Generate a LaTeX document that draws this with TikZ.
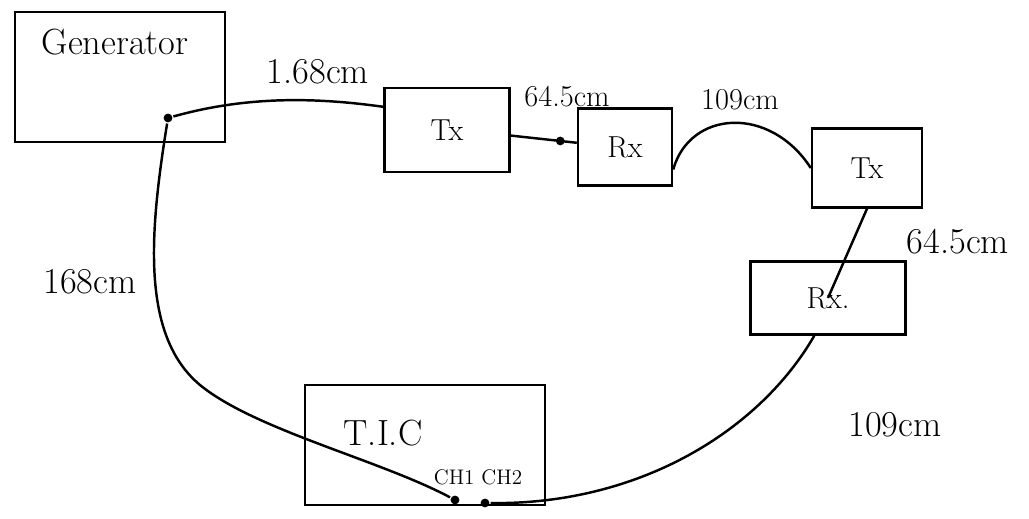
\documentclass[tikz,border=0pt]{standalone}
\usepackage{tikz}
\usetikzlibrary{positioning}
\tikzset{circ/.style = {fill, circle, inner sep = 0, minimum size = 5}}
\tikzset{unit/.style = {draw, rectangle, inner sep = 0, font=\LARGE}}
\tikzset{len/.style = {font=\LARGE}}
\tikzset{
  every picture/.style={
    every path/.style={line width=1.4pt},
  }
}
\begin{document}
\begin{tikzpicture}[x=0.02cm, y=-0.02cm]
        \useasboundingbox (0,0) rectangle (1029,519);
        \node[unit, minimum width=4.2cm, minimum height=2.6cm] (gen) at (120,77) {};
        \node[font=\huge] (genname) at (115,42) {Generator};
        \node[unit, minimum width=2.5cm, minimum height=1.68cm] (tx1) at (447,130) {Tx};
        \node[unit, minimum width=1.88cm, minimum height=1.54cm] (rx1) at (625,147) {Rx};
        \node[unit, minimum width=2.2cm, minimum height=1.58cm] (tx2) at (867,168) {Tx};
        \node[unit, minimum width=3.1cm, minimum height=1.46cm] (rx2) at (828,298) {Rx.};
        \node[unit, minimum width=4.8cm, minimum height=2.4cm] (tic) at (425,445) {};
        \node[font=\huge] (ticname) at (383,433) {T.I.C};
        \node[font=\large] (chname) at (478,477) {CH1 CH2};
        \node[circ] (gp) at (168,118) {};
        \node[circ] (tch1) at (455,500) {};
        \node[circ] (tch2) at (485,503) {};
        % cables
        \draw (gp) .. controls (250,95) and (320,98) .. (tx1.160);
        \draw (tx1.-5) -- node[circ, pos=0.75] (mid) {} (rx1.175);
        \draw (rx1.-25) .. controls (690,110) and (770,105) .. (tx2.west);
        \draw (tx2.south) -- (rx2.center);
        \draw (rx2.-110) .. controls (760,430) and (640,505) .. (tch2);
        \draw (gp) .. controls (150,230) and (140,335) .. (200,385)
                   .. controls (255,430) and (380,460) .. (tch1);
        % lengths
        \node[len, font=\huge] (l168a) at (318,72) {1.68cm};
        \node[len] (l645a) at (567,97) {64.5cm};
        \node[len] (l109a) at (740,100) {109cm};
        \node[len, font=\huge] (l645b) at (958,242) {64.5cm};
        \node[len, font=\huge] (l168b) at (90,282) {168cm};
        \node[len, font=\huge] (l109b) at (895,425) {109cm};
    \end{tikzpicture}
\end{document}
